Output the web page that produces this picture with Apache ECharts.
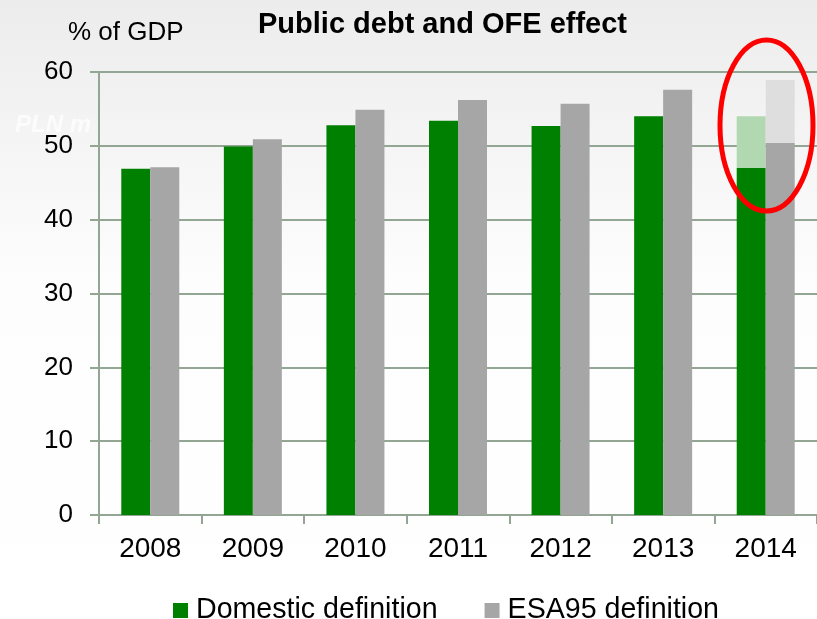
<!DOCTYPE html>
<html>
<head>
<meta charset="utf-8">
<script src="https://cdn.jsdelivr.net/npm/echarts@6/dist/echarts.min.js"></script>
<style>html,body{margin:0;padding:0;}#c{width:817px;height:619px;}</style>
</head>
<body>
<div id="c"></div>
<script>
const categories = ['2008', '2009', '2010', '2011', '2012', '2013', '2014'];
const domestic = [46.9, 49.9, 52.8, 53.4, 52.7, 54.0, 47.0];
const esa95 = [47.1, 50.9, 54.9, 56.2, 55.7, 57.6, 50.4];
const domesticOFE = [null, null, null, null, null, null, 7.0];
const esa95OFE = [null, null, null, null, null, null, 8.5];
const yTicks = { min: 0, max: 60, interval: 10 };

const axisColor = '#93a693';
const font = 'Liberation Sans, Arial, sans-serif';

const chart = echarts.init(document.getElementById('c'), null, { renderer: 'canvas' });
chart.setOption({
  animation: false,
  backgroundColor: {
    type: 'linear', x: 0, y: 0, x2: 0, y2: 1,
    colorStops: [
      { offset: 0, color: '#ececec' },
      { offset: 0.45, color: '#fdfdfd' },
      { offset: 1, color: '#ffffff' }
    ]
  },
  title: {
    text: 'Public debt and OFE effect',
    left: 253, top: 5,
    textStyle: { fontFamily: font, fontSize: 29, fontWeight: 'bold', color: '#000' }
  },
  graphic: [
    { type: 'text', left: 15, top: 113, z: 0,
      style: { text: 'PLN m', fill: 'rgba(255,255,255,0.75)', font: 'italic bold 24px ' + font } },
    { type: 'text', left: 68, top: 20,
      style: { text: '% of GDP', fill: '#000', font: '26px ' + font } },
    { type: 'ellipse', z: 100,
      shape: { cx: 766.5, cy: 125.5, rx: 46.5, ry: 85.5 },
      style: { fill: 'none', stroke: '#ff0000', lineWidth: 5 } }
  ],
  legend: {
    left: 168, top: 591,
    itemWidth: 15, itemHeight: 15, itemGap: 47,
    icon: 'rect',
    data: ['Domestic definition', 'ESA95 definition'],
    textStyle: { fontFamily: font, fontSize: 28.6, color: '#000', padding: [0, 0, 0, 3] }
  },
  grid: { left: 99, top: 72, width: 723, height: 443, containLabel: false },
  xAxis: {
    type: 'category',
    data: categories,
    axisLine: { lineStyle: { color: axisColor, width: 2 } },
    axisTick: { show: true, length: 9, lineStyle: { color: axisColor, width: 2 } },
    axisLabel: { fontFamily: font, fontSize: 28, color: '#000', margin: 20 }
  },
  yAxis: {
    type: 'value',
    min: yTicks.min, max: yTicks.max, interval: yTicks.interval,
    axisLine: { show: true, lineStyle: { color: axisColor, width: 2 } },
    axisTick: { show: true, length: 9, lineStyle: { color: axisColor, width: 2 } },
    axisLabel: { fontFamily: font, fontSize: 26, color: '#000', margin: 26 },
    splitLine: { lineStyle: { color: axisColor, width: 2 } }
  },
  series: [
    { name: 'Domestic definition', type: 'bar', stack: 'dom', data: domestic,
      barWidth: 29, barGap: '0%', itemStyle: { color: '#008000' } },
    { name: 'Domestic OFE', type: 'bar', stack: 'dom', data: domesticOFE,
      barWidth: 29, barGap: '0%', itemStyle: { color: '#b2d8b2' } },
    { name: 'ESA95 definition', type: 'bar', stack: 'esa', data: esa95,
      barWidth: 29, barGap: '0%', itemStyle: { color: '#a6a6a6' } },
    { name: 'ESA95 OFE', type: 'bar', stack: 'esa', data: esa95OFE,
      barWidth: 29, barGap: '0%', itemStyle: { color: '#dedede' } }
  ]
});
</script>
</body>
</html>
